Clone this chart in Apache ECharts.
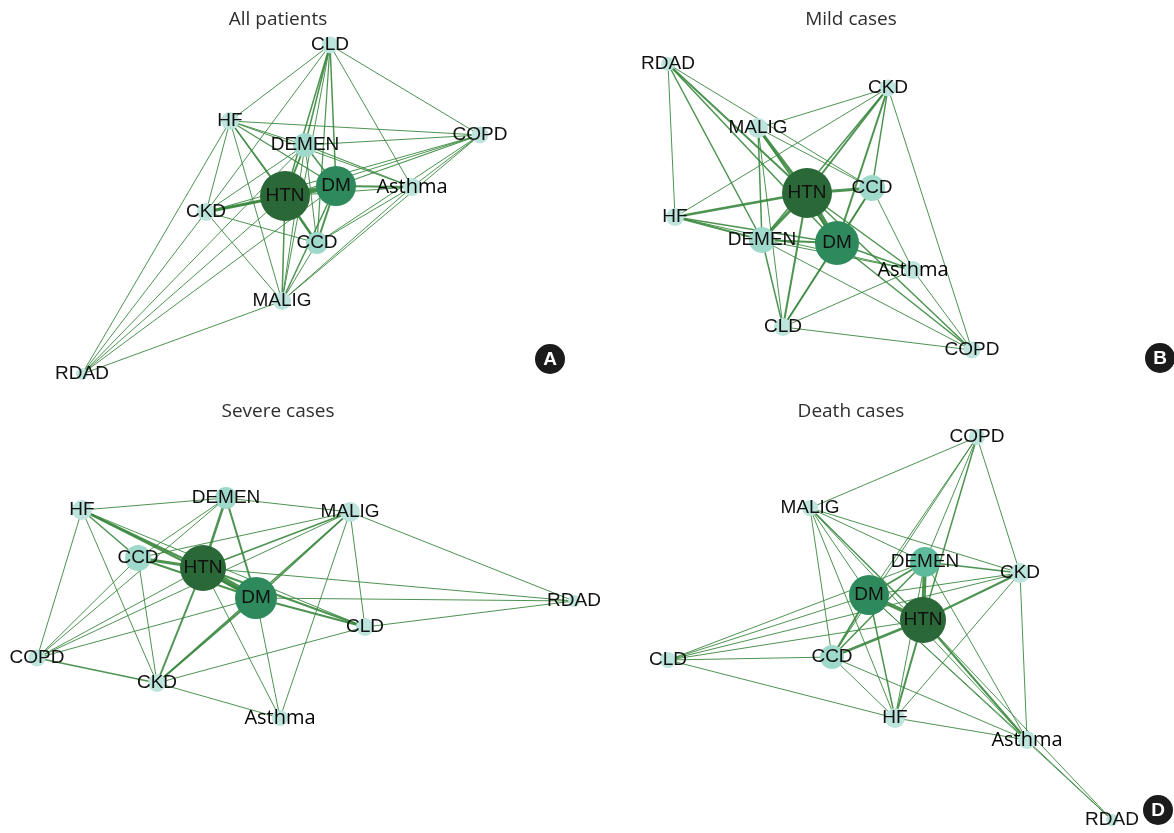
<!DOCTYPE html>
<html>
<head>
<meta charset="utf-8">
<script src="https://cdn.jsdelivr.net/npm/echarts@6/dist/echarts.min.js"></script>
<style>
  html, body { margin: 0; padding: 0; background: #fff; }
  #main { width: 1174px; height: 833px; }
</style>
</head>
<body>
<div id="main"></div>
<script>
// nodes, same order in every panel
const nodeNames = ['HTN', 'DM', 'DEMEN', 'CCD', 'CKD', 'HF', 'CLD', 'COPD', 'MALIG', 'Asthma', 'RDAD']

const panelTitles = ['All patients', 'Mild cases', 'Severe cases', 'Death cases']

// node positions inside each panel
const posA = [[285, 196], [336, 186], [305, 145], [317, 243], [206, 212], [230, 121], [330, 45], [480, 135], [282, 301], [412, 187], [82, 374]]
const posB = [[220, 193], [250, 243], [175, 240], [285, 188], [301, 88], [88, 217], [196, 327], [385, 350], [171, 128], [326, 270], [81, 64]]
const posC = [[203, 152], [256, 182], [226, 82], [138, 142], [157, 267], [82, 94], [365, 211], [37, 242], [350, 96], [280, 302], [574, 185]]
const posD = [[336, 204], [282, 179], [338, 146], [245, 241], [433, 157], [308, 302], [81, 244], [390, 21], [223, 92], [440, 324], [525, 404]]

// node diameters
const sizeA = [50, 40, 24, 22, 18, 18, 17, 17, 18, 18, 12]
const sizeB = [50, 44, 26, 26, 17, 18, 18, 17, 20, 18, 14]
const sizeC = [46, 42, 22, 26, 18, 20, 18, 17, 20, 16, 12]
const sizeD = [46, 40, 30, 24, 20, 20, 16, 16, 16, 18, 12]

// edges: [source, target, weight]
const edgesA = [
  ['HTN', 'DM', 5], ['HTN', 'CKD', 3], ['HTN', 'CCD', 2.5], ['HTN', 'DEMEN', 2], ['HTN', 'MALIG', 1.5], ['HTN', 'Asthma', 1.2],
  ['HTN', 'RDAD', 1], ['HTN', 'HF', 1.5], ['HTN', 'CLD', 1.5], ['HTN', 'COPD', 1],
  ['DM', 'CCD', 2], ['DM', 'Asthma', 2], ['DM', 'CKD', 1.5], ['DM', 'MALIG', 1.5], ['DM', 'DEMEN', 1.5], ['DM', 'HF', 1.2],
  ['DM', 'CLD', 1.5], ['DM', 'COPD', 1.2], ['DM', 'RDAD', 1],
  ['DEMEN', 'CLD', 1.5], ['DEMEN', 'HF', 1], ['DEMEN', 'COPD', 1], ['DEMEN', 'CCD', 1], ['DEMEN', 'CKD', 1], ['DEMEN', 'MALIG', 1],
  ['DEMEN', 'Asthma', 1.2], ['DEMEN', 'RDAD', 1],
  ['CLD', 'HF', 1], ['CLD', 'CKD', 1], ['CLD', 'CCD', 1.2], ['CLD', 'MALIG', 1], ['CLD', 'COPD', 1], ['CLD', 'Asthma', 1],
  ['HF', 'COPD', 1], ['HF', 'Asthma', 1], ['HF', 'CKD', 1], ['HF', 'CCD', 1], ['HF', 'MALIG', 1], ['HF', 'RDAD', 1],
  ['COPD', 'Asthma', 1], ['COPD', 'CKD', 1], ['COPD', 'CCD', 1], ['COPD', 'MALIG', 1],
  ['CKD', 'CCD', 1], ['CKD', 'MALIG', 1], ['CKD', 'RDAD', 1],
  ['CCD', 'Asthma', 1], ['CCD', 'MALIG', 1], ['MALIG', 'Asthma', 1], ['MALIG', 'RDAD', 1]
]
const edgesB = [
  ['HTN', 'DM', 5], ['HTN', 'CCD', 3], ['HTN', 'HF', 2.5], ['HTN', 'DEMEN', 3], ['HTN', 'MALIG', 3], ['HTN', 'CKD', 2],
  ['HTN', 'CLD', 2], ['HTN', 'Asthma', 1.5], ['HTN', 'COPD', 1.5], ['HTN', 'RDAD', 2],
  ['DM', 'CCD', 2], ['DM', 'DEMEN', 2], ['DM', 'CKD', 2], ['DM', 'HF', 1.5], ['DM', 'MALIG', 1.5], ['DM', 'CLD', 2],
  ['DM', 'Asthma', 1.5], ['DM', 'COPD', 1.5], ['DM', 'RDAD', 1.5],
  ['RDAD', 'HF', 1], ['RDAD', 'DEMEN', 1.5], ['RDAD', 'CCD', 1],
  ['CKD', 'MALIG', 1], ['CKD', 'HF', 1], ['CKD', 'CCD', 1.5], ['CKD', 'DEMEN', 1.5], ['CKD', 'COPD', 1],
  ['MALIG', 'DEMEN', 1.5], ['MALIG', 'CLD', 1], ['MALIG', 'CCD', 1],
  ['CCD', 'Asthma', 1], ['CCD', 'CLD', 1],
  ['HF', 'DEMEN', 2], ['HF', 'Asthma', 1],
  ['DEMEN', 'CLD', 1.5], ['DEMEN', 'COPD', 1], ['DEMEN', 'Asthma', 1],
  ['CLD', 'Asthma', 1], ['CLD', 'COPD', 1], ['Asthma', 'COPD', 1]
]
const edgesC = [
  ['HTN', 'DM', 6], ['HTN', 'CCD', 3], ['HTN', 'DEMEN', 2.5], ['HTN', 'HF', 2], ['HTN', 'CLD', 2], ['HTN', 'CKD', 2],
  ['HTN', 'MALIG', 1.5], ['HTN', 'RDAD', 1], ['HTN', 'COPD', 1], ['HTN', 'Asthma', 1],
  ['DM', 'DEMEN', 2], ['DM', 'CCD', 2], ['DM', 'HF', 2], ['DM', 'CLD', 2], ['DM', 'CKD', 2], ['DM', 'MALIG', 1.5],
  ['DM', 'RDAD', 1], ['DM', 'COPD', 1], ['DM', 'Asthma', 1],
  ['HF', 'DEMEN', 1], ['HF', 'CCD', 1.5], ['HF', 'COPD', 1], ['HF', 'CKD', 1], ['HF', 'CLD', 1],
  ['DEMEN', 'MALIG', 1], ['DEMEN', 'CCD', 1], ['DEMEN', 'COPD', 1],
  ['MALIG', 'CCD', 1], ['MALIG', 'COPD', 1], ['MALIG', 'CKD', 1.5], ['MALIG', 'CLD', 1], ['MALIG', 'Asthma', 1], ['MALIG', 'RDAD', 1],
  ['CCD', 'CKD', 1], ['CCD', 'COPD', 1],
  ['CLD', 'RDAD', 1], ['CLD', 'CKD', 1],
  ['COPD', 'CKD', 1.5], ['CKD', 'Asthma', 1]
]
const edgesD = [
  ['HTN', 'DM', 4], ['HTN', 'DEMEN', 4], ['HTN', 'CCD', 2.5], ['HTN', 'CKD', 2], ['HTN', 'HF', 2], ['HTN', 'Asthma', 2],
  ['HTN', 'COPD', 1.5], ['HTN', 'MALIG', 1.5], ['HTN', 'CLD', 1], ['HTN', 'RDAD', 1],
  ['DM', 'DEMEN', 2], ['DM', 'CCD', 2], ['DM', 'HF', 1.5], ['DM', 'CKD', 1], ['DM', 'CLD', 1], ['DM', 'Asthma', 1],
  ['DM', 'COPD', 1], ['DM', 'MALIG', 1], ['DM', 'RDAD', 1],
  ['DEMEN', 'CKD', 1.5], ['DEMEN', 'CCD', 1.5], ['DEMEN', 'CLD', 1], ['DEMEN', 'HF', 1], ['DEMEN', 'Asthma', 1],
  ['DEMEN', 'COPD', 1], ['DEMEN', 'MALIG', 1],
  ['COPD', 'MALIG', 1], ['COPD', 'CCD', 1], ['COPD', 'CKD', 1],
  ['MALIG', 'CKD', 1], ['MALIG', 'CCD', 1], ['MALIG', 'HF', 1], ['MALIG', 'Asthma', 1],
  ['CLD', 'CCD', 1], ['CLD', 'HF', 1], ['CLD', 'CKD', 1],
  ['CCD', 'HF', 1], ['CCD', 'Asthma', 1], ['HF', 'Asthma', 1], ['HF', 'CKD', 1], ['CKD', 'Asthma', 1], ['Asthma', 'RDAD', 1]
]

const panels = [
  { pos: posA, size: sizeA, edges: edgesA },
  { pos: posB, size: sizeB, edges: edgesB },
  { pos: posC, size: sizeC, edges: edgesC },
  { pos: posD, size: sizeD, edges: edgesD }
]

const PW = 587
const PH = 416
const origins = [[0, 0], [587, 0], [0, 416], [587, 416]]

function nodeColor(name, size) {
  if (name === 'HTN') return '#2b6838'
  if (name === 'DM') return '#2e8a5c'
  if (size >= 28) return '#5dbb9b'
  if (size >= 21) return '#9fd9cb'
  return '#bde5dd'
}

const myChart = echarts.init(document.getElementById('main'))

const grids = origins.map(o => ({ left: o[0], top: o[1], width: PW, height: PH }))
const xAxes = origins.map((o, i) => ({ type: 'value', gridIndex: i, min: 0, max: PW, show: false }))
const yAxes = origins.map((o, i) => ({ type: 'value', gridIndex: i, min: 0, max: PH, inverse: true, show: false }))

const series = panels.map((p, i) => ({
  type: 'graph',
  layout: 'none',
  coordinateSystem: 'cartesian2d',
  xAxisIndex: i,
  yAxisIndex: i,
  silent: true,
  animation: false,
  data: nodeNames.map((n, k) => ({
    name: n,
    value: p.pos[k],
    symbolSize: p.size[k],
    itemStyle: { color: nodeColor(n, p.size[k]) },
    label: n === 'Asthma'
      ? { fontFamily: 'Open Sans', fontSize: 20, fontWeight: 500, letterSpacing: -0.6, color: '#000' }
      : {}
  })),
  links: p.edges.map(e => ({
    source: e[0],
    target: e[1],
    lineStyle: { width: e[2] }
  })),
  label: {
    show: true,
    position: 'inside',
    color: '#111',
    fontFamily: 'Liberation Sans',
    fontSize: 19
  },
  lineStyle: {
    color: '#3a873e',
    opacity: 0.9,
    curveness: 0
  }
}))

const graphic = []
const titleCenters = [[278, 20], [851, 20], [278, 412], [851, 412]]
panelTitles.forEach((t, i) => {
  graphic.push({
    type: 'text',
    x: titleCenters[i][0],
    y: titleCenters[i][1],
    style: {
      text: t,
      fill: '#2e2e2e',
      font: '19px "Open Sans"',
      textAlign: 'center',
      textVerticalAlign: 'middle'
    }
  })
})
const badges = [['A', 550, 359], ['B', 1160, 358], ['D', 1158, 810]]
badges.forEach(b => {
  graphic.push({
    type: 'circle',
    shape: { cx: b[1], cy: b[2], r: 15 },
    style: { fill: '#1b1b1b' }
  })
  graphic.push({
    type: 'text',
    x: b[1],
    y: b[2] + 1,
    style: {
      text: b[0],
      fill: '#fff',
      font: 'bold 19px "Liberation Sans"',
      textAlign: 'center',
      textVerticalAlign: 'middle'
    }
  })
})

myChart.setOption({
  animation: false,
  grid: grids,
  xAxis: xAxes,
  yAxis: yAxes,
  series: series,
  graphic: graphic
})
</script>
</body>
</html>
